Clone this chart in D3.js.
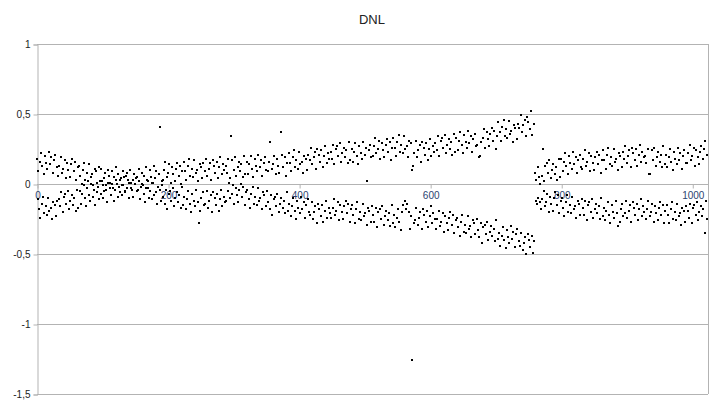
<!DOCTYPE html>
<html>
<head>
<meta charset="utf-8">
<script src="https://cdn.jsdelivr.net/npm/d3@7"></script>
<style>
  body { margin: 0; background: #fff; }
  svg { font-family: "Liberation Sans", Arial, sans-serif; }
</style>
</head>
<body>
<div id="chart"></div>
<script>
// DNL per code: even codes sit in the upper band, odd codes in the lower band
const upperBand = [
  0.18,0.09,0.16,0.22,0.13,0.07,0.2,0.15,0.11,0.23,0.14,0.19,0.08,0.17,0.21,0.12,
  0.06,0.13,0.19,0.08,0.11,0.17,0.04,0.15,0.1,0.05,0.14,0.18,0.09,0.16,0.03,0.12,
  0.13,0.06,0.0,0.1,0.15,0.03,0.08,0.02,0.14,0.05,0.07,-0.01,0.11,0.09,0.01,0.12,
  0.02,0.11,-0.01,0.04,0.08,-0.04,0.1,0.06,0.01,0.09,-0.03,0.05,0.12,0.0,0.07,0.03,
  0.04,-0.01,0.09,-0.05,0.06,0.08,0.01,0.1,-0.03,0.03,0.07,0.0,0.05,-0.04,0.11,-0.02,
  0.08,-0.01,0.06,0.12,0.03,-0.03,0.1,0.05,0.01,0.13,0.04,0.09,-0.02,0.07,0.41,0.02,
  0.03,0.1,0.16,0.05,0.08,0.14,0.01,0.12,0.07,0.02,0.11,0.15,0.06,0.13,0.0,0.09,
  0.16,0.09,0.03,0.13,0.18,0.06,0.11,0.05,0.17,0.08,0.1,0.02,0.14,0.12,0.04,0.15,
  0.09,0.18,0.06,0.11,0.15,0.03,0.17,0.13,0.08,0.16,0.04,0.12,0.19,0.07,0.14,0.1,
  0.13,0.08,0.18,0.04,0.34,0.17,0.1,0.19,0.06,0.12,0.16,0.09,0.14,0.05,0.2,0.07,
  0.16,0.07,0.14,0.2,0.11,0.05,0.18,0.13,0.09,0.21,0.12,0.17,0.06,0.15,0.19,0.1,
  0.09,0.16,0.3,0.11,0.14,0.2,0.07,0.18,0.13,0.08,0.37,0.21,0.12,0.19,0.06,0.15,
  0.22,0.15,0.09,0.19,0.24,0.12,0.17,0.11,0.23,0.14,0.16,0.08,0.2,0.18,0.1,0.21,
  0.17,0.26,0.14,0.19,0.23,0.11,0.25,0.21,0.16,0.24,0.12,0.2,0.27,0.15,0.22,0.18,
  0.23,0.18,0.28,0.14,0.25,0.27,0.2,0.29,0.16,0.22,0.26,0.19,0.24,0.15,0.3,0.17,
  0.25,0.16,0.23,0.29,0.2,0.14,0.27,0.22,0.18,0.3,0.21,0.26,0.02,0.24,0.28,0.19,
  0.2,0.27,0.33,0.22,0.25,0.31,0.18,0.29,0.24,0.19,0.28,0.32,0.23,0.3,0.17,0.26,
  0.33,0.26,0.2,0.3,0.35,0.23,0.28,0.22,0.34,0.25,0.27,0.19,0.31,0.29,0.1,0.13,
  0.22,0.31,0.19,0.24,0.28,0.16,0.3,0.26,0.21,0.29,0.17,0.25,0.32,0.2,0.27,0.23,
  0.29,0.24,0.34,0.2,0.31,0.33,0.26,0.35,0.22,0.28,0.32,0.25,0.3,0.21,0.36,0.23,
  0.33,0.24,0.31,0.37,0.28,0.22,0.35,0.3,0.26,0.38,0.29,0.34,0.23,0.32,0.36,0.27,
  0.28,0.19,0.2,0.3,0.33,0.39,0.26,0.37,0.32,0.27,0.36,0.4,0.31,0.38,0.25,0.34,
  0.44,0.37,0.31,0.41,0.46,0.34,0.39,0.33,0.45,0.36,0.38,0.3,0.42,0.4,0.32,0.43,
  0.4,0.49,0.37,0.42,0.46,0.34,0.48,0.44,0.39,0.52,0.35,0.43,0.08,0.03,0.12,0.05,
  0.0,0.06,0.25,0.02,0.13,0.15,0.08,0.17,0.04,0.1,0.14,0.07,0.12,0.03,0.18,0.05,
  0.18,0.09,0.16,0.22,0.13,0.07,0.2,0.15,0.11,0.23,0.14,0.19,0.08,0.17,0.21,0.12,
  0.11,0.18,0.24,0.13,0.16,0.22,0.09,0.2,0.15,0.1,0.19,0.23,0.14,0.21,0.08,0.17,
  0.24,0.17,0.11,0.21,0.26,0.14,0.19,0.13,0.25,0.16,0.18,0.1,0.22,0.2,0.12,0.23,
  0.18,0.27,0.15,0.2,0.24,0.12,0.26,0.22,0.17,0.25,0.13,0.21,0.28,0.16,0.23,0.19,
  0.2,0.15,0.25,0.07,0.07,0.24,0.17,0.26,0.13,0.19,0.23,0.16,0.21,0.12,0.27,0.14,
  0.21,0.12,0.19,0.25,0.16,0.1,0.23,0.18,0.14,0.26,0.17,0.22,0.11,0.2,0.24,0.15,
  0.15,0.22,0.28,0.17,0.2,0.26,0.13,0.24,0.19,0.14,0.23,0.27,0.18,0.25,0.31,0.21
];

const lowerBand = [
  -0.11,-0.18,-0.24,-0.14,-0.09,-0.21,-0.16,-0.22,-0.1,-0.19,-0.17,-0.25,-0.13,-0.15,-0.23,-0.12,
  -0.11,-0.16,-0.06,-0.2,-0.09,-0.07,-0.14,-0.05,-0.18,-0.12,-0.08,-0.15,-0.1,-0.19,-0.04,-0.17,
  -0.05,-0.14,-0.07,-0.01,-0.1,-0.16,-0.03,-0.08,-0.12,0.0,-0.09,-0.04,-0.15,-0.06,-0.02,-0.11,
  -0.07,0.02,-0.1,-0.05,-0.01,-0.13,0.01,-0.03,-0.08,0.0,-0.12,-0.04,0.03,-0.09,-0.02,-0.06,
  -0.08,-0.01,0.05,-0.06,-0.03,0.03,-0.1,0.01,-0.04,-0.09,0.0,0.04,-0.05,0.02,-0.11,-0.02,
  0.0,-0.07,-0.13,-0.03,0.02,-0.1,-0.05,-0.11,0.01,-0.08,-0.06,-0.14,-0.02,-0.04,-0.12,-0.01,
  -0.09,-0.14,-0.04,-0.18,-0.07,-0.05,-0.12,-0.03,-0.16,-0.1,-0.06,-0.13,-0.08,-0.17,-0.02,-0.15,
  -0.09,-0.18,-0.11,-0.05,-0.14,-0.2,-0.07,-0.12,-0.16,-0.04,-0.13,-0.28,-0.19,-0.1,-0.06,-0.15,
  -0.14,-0.05,-0.17,-0.12,-0.08,-0.2,-0.06,-0.1,-0.15,-0.07,-0.19,-0.11,-0.04,-0.16,-0.09,-0.13,
  -0.12,-0.05,0.01,-0.1,-0.07,-0.01,-0.14,-0.03,-0.08,-0.13,-0.04,0.0,-0.09,-0.02,-0.15,-0.06,
  -0.04,-0.11,-0.17,-0.07,-0.02,-0.14,-0.09,-0.15,-0.03,-0.12,-0.1,-0.18,-0.06,-0.08,-0.16,-0.05,
  -0.13,-0.18,-0.08,-0.22,-0.11,-0.09,-0.16,-0.07,-0.2,-0.14,-0.1,-0.17,-0.12,-0.21,-0.06,-0.19,
  -0.14,-0.23,-0.16,-0.1,-0.19,-0.25,-0.12,-0.17,-0.21,-0.09,-0.18,-0.13,-0.24,-0.15,-0.11,-0.2,
  -0.22,-0.13,-0.25,-0.2,-0.16,-0.28,-0.14,-0.18,-0.23,-0.15,-0.27,-0.19,-0.12,-0.24,-0.17,-0.21,
  -0.24,-0.17,-0.11,-0.22,-0.19,-0.13,-0.26,-0.15,-0.2,-0.25,-0.16,-0.12,-0.21,-0.14,-0.27,-0.18,
  -0.15,-0.22,-0.28,-0.18,-0.13,-0.25,-0.2,-0.26,-0.14,-0.23,-0.21,-0.29,-0.17,-0.19,-0.27,-0.16,
  -0.22,-0.27,-0.17,-0.31,-0.2,-0.18,-0.25,-0.16,-0.29,-0.23,-0.19,-0.26,-0.21,-0.3,-0.15,-0.28,
  -0.22,-0.31,-0.24,-0.18,-0.27,-0.33,-0.2,-0.15,-0.12,-0.18,-0.14,-0.2,-0.32,-0.23,-1.26,-0.28,
  -0.26,-0.17,-0.29,-0.24,-0.2,-0.32,-0.18,-0.22,-0.27,-0.19,-0.31,-0.23,-0.16,-0.28,-0.21,-0.25,
  -0.32,-0.25,-0.19,-0.3,-0.27,-0.21,-0.34,-0.23,-0.28,-0.33,-0.24,-0.2,-0.29,-0.22,-0.35,-0.26,
  -0.24,-0.31,-0.37,-0.27,-0.22,-0.34,-0.29,-0.35,-0.23,-0.32,-0.3,-0.38,-0.26,-0.28,-0.36,-0.25,
  -0.33,-0.38,-0.28,-0.42,-0.31,-0.29,-0.36,-0.27,-0.4,-0.34,-0.3,-0.37,-0.32,-0.41,-0.26,-0.39,
  -0.35,-0.44,-0.37,-0.31,-0.4,-0.46,-0.33,-0.38,-0.42,-0.3,-0.39,-0.34,-0.45,-0.36,-0.32,-0.41,
  -0.44,-0.35,-0.47,-0.42,-0.38,-0.5,-0.36,-0.4,-0.45,-0.37,-0.49,-0.41,-0.12,-0.14,-0.1,-0.13,
  -0.18,-0.11,-0.05,-0.16,-0.13,-0.07,-0.2,-0.09,-0.14,-0.19,-0.1,-0.06,-0.15,-0.08,-0.21,-0.12,
  -0.1,-0.17,-0.23,-0.13,-0.08,-0.2,-0.15,-0.21,-0.09,-0.18,-0.16,-0.24,-0.12,-0.14,-0.22,-0.11,
  -0.17,-0.22,-0.12,-0.26,-0.15,-0.13,-0.2,-0.11,-0.24,-0.18,-0.14,-0.21,-0.16,-0.25,-0.1,-0.23,
  -0.17,-0.26,-0.19,-0.13,-0.22,-0.28,-0.15,-0.2,-0.24,-0.12,-0.21,-0.3,-0.27,-0.18,-0.14,-0.23,
  -0.21,-0.12,-0.24,-0.19,-0.15,-0.27,-0.13,-0.17,-0.22,-0.14,-0.26,-0.18,-0.11,-0.23,-0.16,-0.2,
  -0.25,-0.18,-0.12,-0.23,-0.2,-0.14,-0.27,-0.16,-0.21,-0.26,-0.17,-0.13,-0.22,-0.15,-0.28,-0.19,
  -0.15,-0.22,-0.28,-0.18,-0.13,-0.25,-0.2,-0.26,-0.14,-0.23,-0.21,-0.29,-0.17,-0.19,-0.27,-0.16,
  -0.19,-0.24,-0.14,-0.28,-0.17,-0.15,-0.22,-0.13,-0.26,-0.2,-0.16,-0.23,-0.18,-0.35,-0.12,-0.25
];

const yTicks = [1, 0.5, 0, -0.5, -1, -1.5];
const xTicks = [0, 200, 400, 600, 800, 1000];

// build (code, dnl) pairs
const points = [];
upperBand.forEach((v, i) => points.push({ code: 2 * i, dnl: v }));
lowerBand.forEach((v, i) => points.push({ code: 2 * i + 1, dnl: v }));

const width = 718, height = 417;
const plot = { left: 37, right: 708, top: 44, bottom: 394 };

const svg = d3.select("#chart")
    .append("svg")
    .attr("width", width)
    .attr("height", height);

const x = d3.scaleLinear()
    .domain([0, 1024])
    .range([plot.left, plot.right]);

const y = d3.scaleLinear()
    .domain([-1.5, 1])
    .range([plot.bottom, plot.top]);

const fmt = d => String(d).replace(".", ",");

// horizontal grid lines
svg.append("g")
    .selectAll("line")
    .data(yTicks)
    .enter()
    .append("line")
    .attr("x1", plot.left)
    .attr("x2", plot.right)
    .attr("y1", d => y(d) + 0.5)
    .attr("y2", d => y(d) + 0.5)
    .attr("stroke", "#b3b3b3")
    .attr("stroke-width", 1);

// right border
svg.append("line")
    .attr("x1", plot.right + 0.5)
    .attr("x2", plot.right + 0.5)
    .attr("y1", plot.top)
    .attr("y2", plot.bottom)
    .attr("stroke", "#b3b3b3");

// y axis
const yAxis = svg.append("g")
    .attr("transform", `translate(${plot.left + 0.5},0.5)`)
    .call(d3.axisLeft(y).tickValues(yTicks).tickSize(4).tickPadding(3).tickFormat(fmt));
yAxis.select(".domain").attr("stroke", "#b3b3b3");
yAxis.selectAll(".tick line").attr("stroke", "#b3b3b3");
yAxis.selectAll("text")
    .attr("fill", "#222")
    .style("font-size", "10px")
    .style("font-family", "Liberation Sans, Arial, sans-serif");

// x axis crossing at zero
const xAxis = svg.append("g")
    .attr("transform", `translate(0.5,${y(0) + 0.5})`)
    .call(d3.axisBottom(x).tickValues(xTicks).tickSize(4).tickPadding(3).tickFormat(d3.format("d")));
xAxis.select(".domain").remove();
xAxis.selectAll(".tick line").attr("stroke", "#b3b3b3");
xAxis.selectAll("text")
    .attr("fill", "#2b4470")
    .style("font-size", "10px")
    .style("font-family", "Liberation Sans, Arial, sans-serif");

// points, snapped to whole pixels so they stay solid black
svg.append("g")
    .attr("shape-rendering", "crispEdges")
    .selectAll("rect")
    .data(points)
    .enter()
    .append("rect")
    .attr("x", d => Math.round(x(d.code)) - 1)
    .attr("y", d => Math.round(y(d.dnl)) - 1)
    .attr("width", 2)
    .attr("height", 2)
    .attr("fill", "#000");

// title
svg.append("text")
    .attr("x", 372)
    .attr("y", 24)
    .attr("text-anchor", "middle")
    .style("font-size", "13px")
    .attr("fill", "#222")
    .text("DNL");
</script>
</body>
</html>
